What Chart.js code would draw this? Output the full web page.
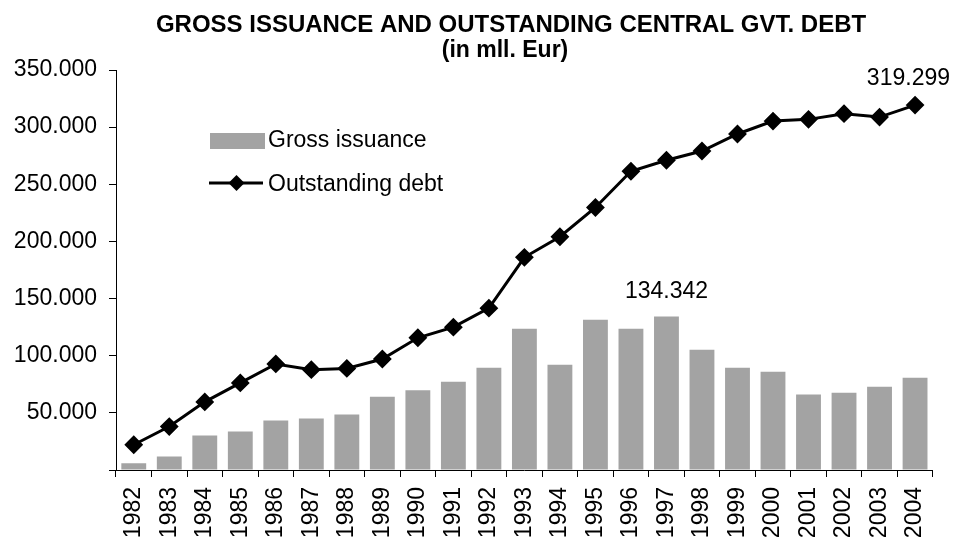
<!DOCTYPE html>
<html>
<head>
<meta charset="utf-8">
<script src="https://cdn.jsdelivr.net/npm/chart.js@4"></script>
<style>
  html, body { margin: 0; padding: 0; background: #fff; }
  #wrap { width: 953px; height: 540px; }
</style>
</head>
<body>
<div id="wrap"><canvas id="debtChart" width="953" height="540"></canvas></div>
<script>
var years = ['1982', '1983', '1984', '1985', '1986', '1987', '1988', '1989', '1990', '1991', '1992',
  '1993', '1994', '1995', '1996', '1997', '1998', '1999', '2000', '2001', '2002', '2003', '2004'];
var grossIssuance = [5800, 11900, 30200, 33700, 43300, 45000, 48500, 64200, 69700, 77300, 89500,
  123500, 92100, 131400, 123500, 134342, 105200, 89500, 86000, 66000, 67700, 72900, 80800];
var outstandingDebt = [22100, 38000, 59600, 76200, 92800, 87800, 88900, 97100, 115700, 125000, 141600,
  186100, 204100, 229700, 261400, 271000, 279100, 294000, 305300, 306800, 311800, 308800, 319299];
var yTicks = [0, 50000, 100000, 150000, 200000, 250000, 300000, 350000];
var labelled = [{ dataset: 1, index: 22 }, { dataset: 0, index: 15 }];

var FONT = '"Liberation Sans", Arial, sans-serif';

function fmt(v) {
  if (v === 0) return '';
  return String(Math.round(v)).replace(/\B(?=(\d{3})+(?!\d))/g, '.');
}

// title, legend inside the plot and the two value labels
var extras = {
  id: 'extras',
  afterDraw: function(chart) {
    var c = chart.ctx;
    c.save();
    c.fillStyle = '#000';
    c.textAlign = 'center';
    c.textBaseline = 'alphabetic';
    c.font = 'bold 24px ' + FONT;
    c.fillText('GROSS ISSUANCE AND OUTSTANDING CENTRAL GVT. DEBT', 511, 32);
    c.font = 'bold 23px ' + FONT;
    c.fillText('(in mll. Eur)', 505, 57);

    // legend
    c.fillStyle = '#a3a3a3';
    c.fillRect(210, 133, 55, 16);
    c.strokeStyle = '#000';
    c.lineWidth = 3;
    c.beginPath();
    c.moveTo(209, 183);
    c.lineTo(263, 183);
    c.stroke();
    c.fillStyle = '#000';
    c.beginPath();
    c.moveTo(236.5, 175);
    c.lineTo(244.5, 183);
    c.lineTo(236.5, 191);
    c.lineTo(228.5, 183);
    c.closePath();
    c.fill();
    c.font = '23px ' + FONT;
    c.textAlign = 'left';
    c.fillText('Gross issuance', 268, 147);
    c.fillText('Outstanding debt', 268, 191);

    // value labels
    c.font = '23px ' + FONT;
    c.textAlign = 'center';
    labelled.forEach(function(l) {
      var el = chart.getDatasetMeta(l.dataset).data[l.index];
      var v = chart.data.datasets[l.dataset].data[l.index];
      var txt = fmt(v);
      var w = c.measureText(txt).width;
      var x = Math.min(el.x, chart.width - w / 2 - 3);
      var y = l.dataset === 1 ? el.y - 20 : el.y - 18;
      c.fillText(txt, x, y);
    });
    c.restore();
  }
};

var ctx = document.getElementById('debtChart').getContext('2d');
var debtChart = new Chart(ctx, {
  type: 'bar',
  data: {
    labels: years,
    datasets: [{
      type: 'bar',
      label: 'Gross issuance',
      data: grossIssuance,
      backgroundColor: '#a3a3a3',
      borderWidth: 0,
      barPercentage: 0.7,
      categoryPercentage: 1.0,
      order: 2
    },
    {
      type: 'line',
      label: 'Outstanding debt',
      data: outstandingDebt,
      borderColor: '#000',
      backgroundColor: '#000',
      borderWidth: 3,
      pointStyle: 'rectRot',
      pointRadius: 8,
      pointBorderWidth: 2,
      pointBackgroundColor: '#000',
      pointBorderColor: '#000',
      tension: 0,
      order: 1
    }]
  },
  options: {
    responsive: false,
    animation: false,
    layout: {
      padding: { top: 70, right: 16, left: 0, bottom: 0 }
    },
    scales: {
      x: {
        offset: true,
        grid: {
          offset: true,
          drawOnChartArea: false,
          drawTicks: true,
          tickLength: 7,
          color: '#000'
        },
        border: { display: true, color: '#000', width: 1 },
        ticks: {
          maxRotation: 90,
          minRotation: 90,
          padding: 10,
          color: '#000',
          font: { family: FONT, size: 23 }
        },
        afterFit: function(scale) { scale.height = 70; }
      },
      y: {
        min: 0,
        max: 350000,
        afterBuildTicks: function(scale) {
          scale.ticks = yTicks.map(function(v) { return { value: v }; });
        },
        grid: {
          drawOnChartArea: false,
          drawTicks: true,
          tickLength: 7,
          color: '#000'
        },
        border: { display: true, color: '#000', width: 1 },
        ticks: {
          padding: 12,
          color: '#000',
          font: { family: FONT, size: 23 },
          callback: function(v) { return fmt(v); }
        },
        afterFit: function(scale) { scale.width = 116; }
      }
    },
    plugins: {
      legend: { display: false },
      tooltip: { enabled: false },
      title: { display: false }
    }
  },
  plugins: [extras]
});
</script>
</body>
</html>
